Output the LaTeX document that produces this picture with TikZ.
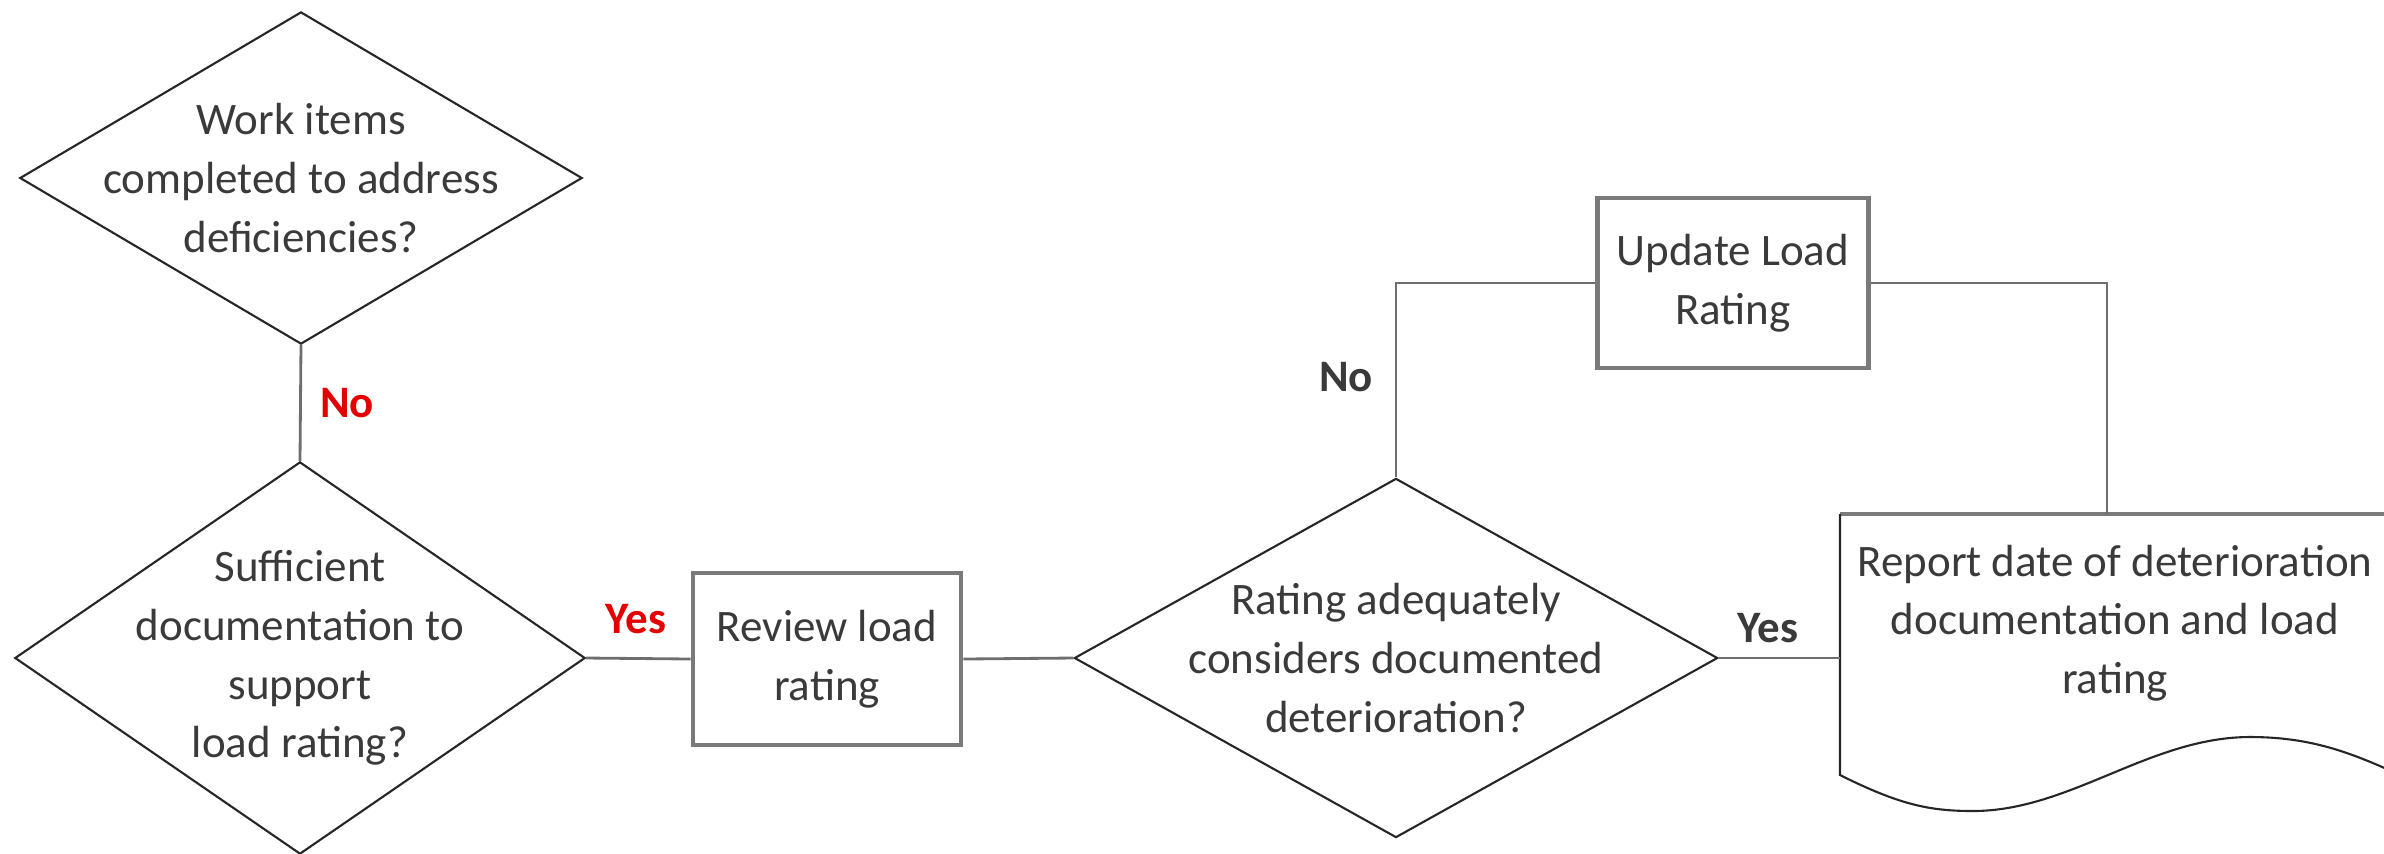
\documentclass[tikz,border=0pt]{standalone}
\usepackage{fontspec}
\setmainfont{Carlito}
\usetikzlibrary{shapes.geometric, positioning}
\definecolor{linegray}{HTML}{6E6E6E}
\definecolor{boxgray}{HTML}{7A7A7A}
\definecolor{diagline}{HTML}{262626}
\definecolor{txtgray}{HTML}{3A3A3A}
\definecolor{lblred}{HTML}{E30000}
\begin{document}
\begin{tikzpicture}
[
	x=0.01cm, y=-0.01cm,
	every node/.style={font=\fontsize{12.8}{16.7}\selectfont, text=txtgray},
	dec/.style={diamond,draw=diagline,line width=0.6pt,inner sep=0pt},
	sq/.style={rectangle,draw=boxgray,line width=1.3pt,align=center},
	conn/.style={draw=linegray,line width=0.8pt},
	yesno/.style={font=\fontsize{12.8}{16.7}\selectfont\bfseries}
]
\useasboundingbox (0,0) rectangle (2384,853);
\clip (0,0) rectangle (2384,853);

\node[dec,minimum width=5.62cm,minimum height=3.32cm,
	label={[align=center]center:Work items\\completed to address\\deficiencies?}] (work) at (301,178) {};
\node[dec,minimum width=5.70cm,minimum height=3.92cm,
	label={[align=center]center:Sufficient\\documentation to\\support\\load rating?}] (suff) at (300,658) {};
\node[sq,minimum width=2.68cm,minimum height=1.72cm] (review) at (827,659) {Review load\\rating};
\node[dec,minimum width=6.43cm,minimum height=3.59cm,
	label={[align=center]center:Rating adequately\\considers documented\\deterioration?}] (rating) at (1396,658) {};
\node[sq,minimum width=2.71cm,minimum height=1.70cm] (update) at (1733,283) {Update Load\\Rating};
\node[align=center] (report) at (2115,623) {Report date of deterioration\\documentation and load\\rating};

% document shape
\coordinate (reportin) at (1840,658);
\coordinate (reporttop) at (2107,514);
\draw[draw=boxgray,line width=1.3pt] (1840,514) -- (2400,514);
\draw[draw=diagline,line width=0.6pt] (1840,514) -- (1840,775)
	.. controls (1900,805) and (1930,811) .. (1973,811)
	.. controls (2070,811) and (2150,737) .. (2250,737)
	.. controls (2310,737) and (2350,752) .. (2400,775);

\draw[conn]	(work.south)	--	(suff.north);
\draw[conn]	(suff.east)	--	(review.west);
\draw[conn]	(review.east)	--	(rating.west);
\draw[conn]	(rating.east)	--	(reportin);
\draw[conn]	(rating.north)	|-	(update.west);
\draw[conn]	(update.east)	-|	(reporttop);

\node[yesno,text=lblred] (no1) at (347,403) {No};
\node[yesno,text=lblred] (yes1) at (636,619) {Yes};
\node[yesno] (no2) at (1346,377) {No};
\node[yesno] (yes2) at (1768,628) {Yes};

\end{tikzpicture}
\end{document}
